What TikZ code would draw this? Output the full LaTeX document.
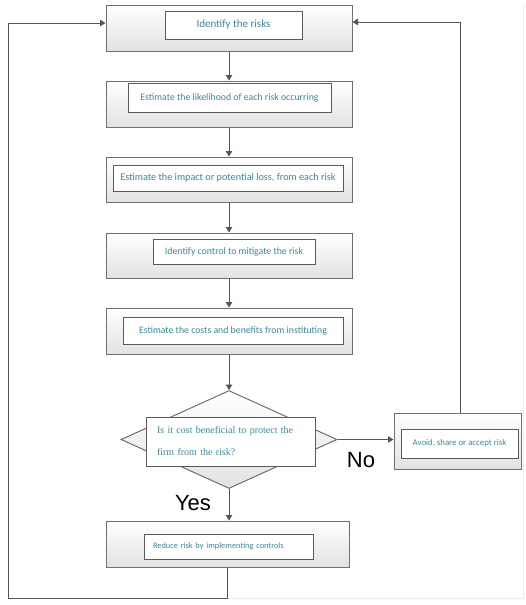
\documentclass[tikz,border=0pt]{standalone}
\usepackage{fontspec}
\setmainfont{Carlito}
\newfontfamily\diamfont{Liberation Serif}
\newfontfamily\arialfont{Liberation Sans}
\usetikzlibrary{arrows.meta,shapes.geometric}
\definecolor{txt}{RGB}{62,135,155}
\definecolor{bord}{RGB}{112,112,112}
\definecolor{innerbord}{RGB}{90,90,90}
\definecolor{lin}{RGB}{85,85,85}
\definecolor{shadebot}{RGB}{226,226,226}
\begin{document}
\begin{tikzpicture}[x=1pt,y=-1pt,
  outerbox/.style={draw=bord, line width=1pt, top color=white, bottom color=shadebot, inner sep=0pt, minimum width=246pt, minimum height=46pt},
  innerbox/.style={draw=innerbord, line width=0.8pt, fill=white, inner sep=0pt, text=txt, font=\fontsize{9.8}{11}\selectfont},
  arr/.style={draw=lin, line width=1pt, -{Triangle[width=6.5pt,length=5.5pt]}},
  lbl/.style={font=\arialfont\fontsize{22}{24}\selectfont, text=black, inner sep=0pt}
]
\useasboundingbox[fill=white] (0,0) rectangle (526,605);
% faint frame
\draw[black!8, line width=1pt] (523,5) -- (523,598) -- (228,598);

% box 1
\node[outerbox] (b1) at (229,28) {};
\node[innerbox, minimum width=137pt, minimum height=28pt, font=\fontsize{11}{13}\selectfont] (i1) at (233.5,25) {\raisebox{-2pt}{Identify\ the risks}};
% box 2
\node[outerbox] (b2) at (229,104) {};
\node[innerbox, minimum width=203pt, minimum height=29pt] (i2) at (229.5,97.5) {\raisebox{-2pt}{Estimate the likelihood of each risk occurring}};
% box 3
\node[outerbox, minimum height=45pt] (b3) at (229,179.5) {};
\node[innerbox, minimum width=230pt, minimum height=26pt, font=\fontsize{10.2}{12}\selectfont] (i3) at (228,178) {\raisebox{-3pt}{Estimate the impact or potential loss, from each risk}};
% box 4
\node[outerbox, minimum height=45pt] (b4) at (229,255.5) {};
\node[innerbox, minimum width=162pt, minimum height=25pt] (i4) at (234,251.5) {\raisebox{-3pt}{Identify control to mitigate the risk}};
% box 5
\node[outerbox] (b5) at (229,331) {};
\node[innerbox, minimum width=220pt, minimum height=27pt] (i5) at (233,330.5) {\raisebox{-3pt}{Estimate the costs and benefits from instituting}};

% decision
\node[diamond, draw=bord, line width=1pt, top color=white, bottom color=shadebot, minimum width=216pt, minimum height=98pt, inner sep=0pt] (dia) at (229,439.5) {};
\node[innerbox, minimum width=169pt, minimum height=49pt, text width=147pt, align=left, font=\diamfont\fontsize{10}{22}\selectfont] (idia) at (230.5,441.5) {Is it cost beneficial to protect the\\firm from the risk?};

% right box
\node[outerbox, minimum width=127pt, minimum height=56pt] (rb) at (457.5,441) {};
\node[innerbox, minimum width=117pt, minimum height=29pt, font=\fontsize{8.8}{10}\selectfont] (irb) at (459.5,443.5) {\raisebox{-2pt}{Avoid, share or accept risk}};

% box 6
\node[outerbox, minimum width=243pt] (b6) at (227.5,544) {};
\node[innerbox, minimum width=169pt, minimum height=25pt, text width=151pt, align=left, font=\fontsize{8.35}{10}\selectfont] (i6) at (228.5,546.5) {\raisebox{-4pt}{Reduce risk by implementing controls}};

% labels
\node[lbl] (yes) at (193,503) {Yes};
\node[lbl] (no) at (361,460) {No};

% connectors
\draw[arr] (b1.south) -- (b2.north);
\draw[arr] (b2.south) -- (b3.north);
\draw[arr] (b3.south) -- (b4.north);
\draw[arr] (b4.south) -- (b5.north);
\draw[arr] (b5.south) -- (dia.north);
\draw[arr] (dia.south) -- (dia.south |- b6.north);
\draw[arr] (dia.east) -- (dia.east -| rb.west);
\coordinate (lb) at (8,598);
\draw[arr] (b6.south) |- (lb) |- ([yshift=5pt]b1.west);
\draw[arr] ([xshift=2.5pt]rb.north) |- ([yshift=6pt]b1.east);
\end{tikzpicture}
\end{document}
